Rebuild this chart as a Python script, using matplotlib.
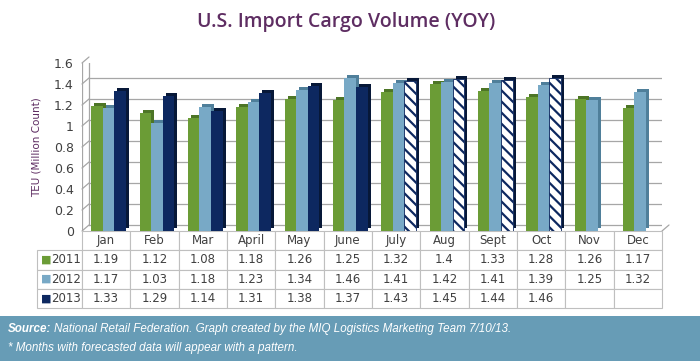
import numpy as np
import matplotlib
matplotlib.use('Agg')
import matplotlib.pyplot as plt
from matplotlib.transforms import ScaledTranslation
from matplotlib.patches import Rectangle

months = ['Jan', 'Feb', 'Mar', 'April', 'May', 'June', 'July', 'Aug', 'Sept',
          'Oct', 'Nov', 'Dec']
years = ['2011', '2012', '2013']
teu_2011 = [1.19, 1.12, 1.08, 1.18, 1.26, 1.25, 1.32, 1.4, 1.33, 1.28, 1.26, 1.17]
teu_2012 = [1.17, 1.03, 1.18, 1.23, 1.34, 1.46, 1.41, 1.42, 1.41, 1.39, 1.25, 1.32]
teu_2013 = [1.33, 1.29, 1.14, 1.31, 1.38, 1.37, 1.43, 1.45, 1.44, 1.46, None, None]
# months whose 2013 value is a forecast (drawn with a pattern)
forecast_2013 = [False] * 6 + [True] * 4 + [False] * 2
yticks = [0, 0.2, 0.4, 0.6, 0.8, 1, 1.2, 1.4, 1.6]

front = ['#6b9c36', '#78a9c6', '#0d2860']
side = ['#4d7526', '#4f7f9a', '#071838']
purple = '#5e2d62'
txt = '#404040'
grid = '#a6a6a6'

plt.rcParams['hatch.linewidth'] = 1.6

fig = plt.figure(figsize=(7, 3.61), dpi=100)
ax = fig.add_axes([82 / 700, 1 - 231 / 361, 580 / 700, 168 / 361])
ax.set_xlim(-0.5, 11.5)
ax.set_ylim(0, 1.6)
for s in ax.spines.values():
    s.set_visible(False)
ax.set_xticks([])
ax.set_yticks(yticks)
ax.set_yticklabels(['%g' % v for v in yticks])
ax.tick_params(axis='y', length=0, pad=6, labelsize=9, labelcolor=txt)
ax.set_ylabel('TEU (Million Count)', color=purple, fontsize=7.5)
ax.yaxis.set_label_coords(-0.07, 0.5)

# pseudo 3D: back wall shifted up/right
back = ax.transData + ScaledTranslation(7 / 100, 6 / 100, fig.dpi_scale_trans)
bar_off = ax.transData + ScaledTranslation(3 / 100, 3 / 100, fig.dpi_scale_trans)

for y in yticks:
    ax.plot([-0.5, 11.5], [y, y], color=grid, lw=0.9, transform=back, zorder=0)
    ax.annotate('', xy=(-0.5, y), xycoords=back, xytext=(-0.5, y),
                textcoords='data',
                arrowprops=dict(arrowstyle='-', color=grid, lw=0.9,
                                shrinkA=0, shrinkB=0), zorder=0)
ax.plot([-0.5, -0.5], [0, 1.6], color=grid, lw=0.9, transform=back, zorder=0)
ax.plot([-0.5, -0.5], [0, 1.6], color=grid, lw=0.9, zorder=0)
ax.annotate('', xy=(11.5, 0), xycoords=back, xytext=(11.5, 0), textcoords='data',
            arrowprops=dict(arrowstyle='-', color=grid, lw=0.9,
                            shrinkA=0, shrinkB=0), zorder=0)

x = np.arange(len(months)) + 0.05
w = 0.24
series = [teu_2011, teu_2012, teu_2013]
for i, vals in enumerate(series):
    xs = x + (i - 1) * w
    v = np.array([np.nan if a is None else a for a in vals])
    ax.bar(xs, v, w, color=side[i], transform=bar_off, zorder=2 + i * 2)
    if i == 2:
        solid = np.where(forecast_2013, np.nan, v)
        hatched = np.where(forecast_2013, v, np.nan)
        ax.bar(xs, solid, w, color=front[i], zorder=3 + i * 2)
        ax.bar(xs, hatched, w, facecolor='white', edgecolor=front[i],
               hatch='\\\\\\', lw=0.6, zorder=3 + i * 2)
    else:
        ax.bar(xs, v, w, color=front[i], zorder=3 + i * 2)

# data table under the chart
cell_text = []
for yr, vals in zip(years, series):
    cell_text.append([yr] + ['' if a is None else '%g' % a for a in vals])
tbl_h = 77 / 168
tbl = ax.table(cellText=cell_text, colLabels=[''] + months,
               colWidths=[45] + [580 / 12] * 12,
               bbox=[-45 / 580, -tbl_h, 625 / 580, tbl_h],
               cellLoc='center')
tbl.auto_set_font_size(False)
for (r, c), cell in tbl.get_celld().items():
    cell.set_edgecolor('#bfbfbf')
    cell.set_linewidth(0.8)
    cell.get_text().set_fontsize(8.5)
    cell.get_text().set_color(txt)
    if r == 0 and c == 0:
        cell.visible_edges = 'open'
    if c == 0 and r > 0:
        cell.get_text().set_ha('right')
        cell._loc = 'right'
        cell.PAD = 0.03
row_h = tbl_h / 4
for i, yr in enumerate(years):
    ax.text(-41 / 580, -(i + 1.5) * row_h, '\u25a0', color=front[i],
            fontsize=8, ha='left', va='center', transform=ax.transAxes)

fig.text(0.495, 1 - 22 / 361, 'U.S. Import Cargo Volume (YOY)', color=purple,
         fontsize=14, fontfamily='Open Sans', fontweight='semibold',
         ha='center', va='center')

# footer band
fig.patches.append(Rectangle((0, 0), 1, 45 / 361, transform=fig.transFigure,
                             facecolor='#679cb6', edgecolor='none', zorder=0))
fs = 8.4
src = fig.text(8 / 700, 1 - 329 / 361, 'Source:', color='white', fontsize=fs,
               fontfamily='Liberation Sans', fontweight='bold',
               fontstyle='italic', va='center')
r = fig.canvas.get_renderer()
bb = src.get_window_extent(r)
fig.text(bb.x1 / 700 + 3 / 700, 1 - 329 / 361,
         'National Retail Federation. Graph created by the MIQ Logistics '
         'Marketing Team 7/10/13.', color='white', fontsize=fs,
         fontfamily='Liberation Sans', fontstyle='italic', va='center')
fig.text(8 / 700, 1 - 348 / 361,
         '* Months with forecasted data will appear with a pattern.',
         color='white', fontsize=fs, fontfamily='Liberation Sans',
         fontstyle='italic', va='center')

fig.savefig('out.png', dpi=100)
